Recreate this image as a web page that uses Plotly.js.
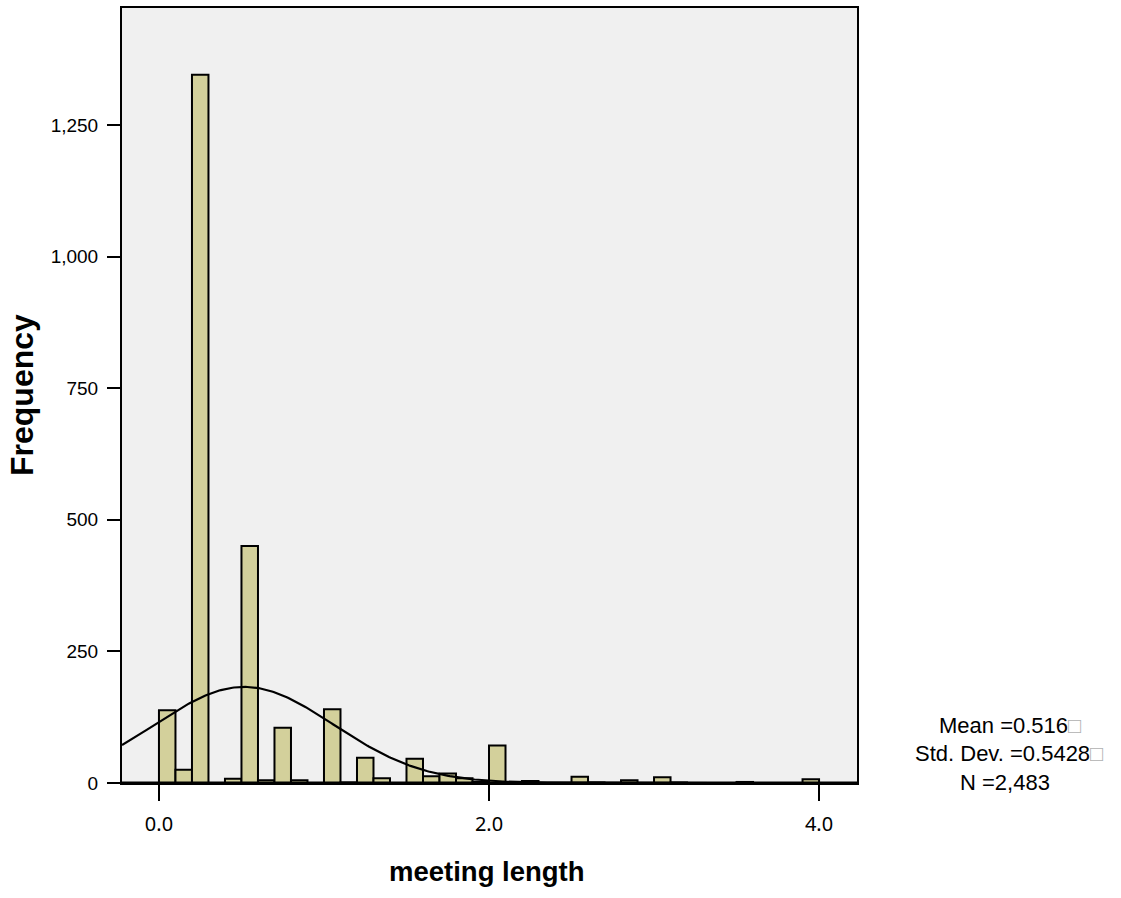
<!DOCTYPE html>
<html>
<head>
<meta charset="utf-8">
<script src="https://cdn.plot.ly/plotly-3.0.1.min.js"></script>
<style>html,body{margin:0;padding:0;background:#fff;}</style>
</head>
<body>
<div id="chart" style="width:1121px;height:898px;"></div>
<script>
// Histogram bins (bin centers, width 0.1) and frequencies
const binCenters = [0.05,0.15,0.25,0.35,0.45,0.55,0.65,0.75,0.85,0.95,1.05,1.15,1.25,1.35,1.45,1.55,1.65,1.75,1.85,1.95,2.05,2.15,2.25,2.35,2.45,2.55,2.65,2.75,2.85,2.95,3.05,3.15,3.25,3.35,3.45,3.55,3.65,3.75,3.85,3.95];
const counts     = [138,25,1345,0,8,450,5,105,5,0,140,1,48,9,0,46,13,18,9,2,71,0,4,0,0,12,1,0,5,0,11,1,0,0,0,2,0,0,0,7];
const binWidth = 0.1;

// Summary statistics shown on the chart
const meanVal = 0.516;
const sdVal = 0.5428;
const nVal = 2483;
const statLines = ["Mean =0.516", "Std. Dev. =0.5428", "N =2,483"];
const statHasBox = [true, true, false];

const xTickVals = [0, 2, 4];
const xTickText = ["0.0", "2.0", "4.0"];
const yTickVals = [0, 250, 500, 750, 1000, 1250];

const xRange = [-0.224, 4.23];
const yRange = [0, 1472];

// fitted normal curve from the stated mean / std. dev. / N
const curveX = [], curveY = [];
for (let i = 0; i <= 446; i++) {
  const x = xRange[0] + i * (xRange[1] - xRange[0]) / 446;
  const z = (x - meanVal) / sdVal;
  curveX.push(x);
  curveY.push(nVal * binWidth / (sdVal * Math.sqrt(2 * Math.PI)) * Math.exp(-0.5 * z * z));
}

const sans = "Liberation Sans, Arial, Helvetica, sans-serif";
const xtickFont = "Noto Sans, Open Sans, sans-serif";

const traces = [
  {
    type: "bar",
    x: binCenters,
    y: counts,
    width: binWidth,
    marker: { color: "#d3d09b", line: { color: "#000", width: 2 } },
    hoverinfo: "x+y"
  },
  {
    type: "scatter",
    mode: "lines",
    x: curveX,
    y: curveY,
    line: { color: "#000", width: 2.2 },
    hoverinfo: "skip"
  }
];

const box = '<span style="color:#b0b0b0">□</span>';
const statLeftPx = [937, 913, 958];
const statMidPx = [725, 753, 782];
const statAnn = statLines.map((t, i) => ({
  xref: "paper", yref: "paper",
  x: (statLeftPx[i] - 122) / 735,
  y: (783 - statMidPx[i]) / 775,
  xanchor: "left", yanchor: "middle",
  showarrow: false,
  text: t + (statHasBox[i] ? box : ""),
  font: { size: 22, family: sans, color: "#000" }
}));

const layout = {
  width: 1121,
  height: 898,
  margin: { l: 122, r: 264, t: 8, b: 115 },
  paper_bgcolor: "#ffffff",
  plot_bgcolor: "#f0f0f0",
  showlegend: false,
  bargap: 0,
  font: { family: sans, color: "#000" },
  xaxis: {
    range: xRange,
    tickvals: xTickVals,
    ticktext: xTickText,
    ticks: "outside",
    ticklen: 16,
    tickwidth: 2,
    tickcolor: "#000",
    showgrid: false,
    zeroline: false,
    showline: true,
    linecolor: "#000",
    linewidth: 2,
    mirror: true,
    tickfont: { size: 20, family: xtickFont },
    ticklabelstandoff: 6
  },
  yaxis: {
    range: yRange,
    tickvals: yTickVals,
    tickformat: ",",
    ticks: "outside",
    ticklen: 13,
    tickwidth: 2,
    tickcolor: "#000",
    showgrid: false,
    zeroline: false,
    showline: true,
    linecolor: "#000",
    linewidth: 2,
    mirror: true,
    tickfont: { size: 19, family: sans },
    ticklabelstandoff: 5
  },
  shapes: [
    { type: "line", xref: "paper", yref: "y", x0: 0, x1: 1, y0: 0, y1: 0, line: { color: "#000", width: 3 } }
  ],
  annotations: [
    {
      xref: "paper", yref: "paper",
      x: (487 - 122) / 735, y: (783 - 872) / 775,
      xanchor: "center", yanchor: "middle",
      showarrow: false,
      text: "<b>meeting length</b>",
      font: { size: 27.5, family: sans, color: "#000" }
    },
    {
      xref: "paper", yref: "paper",
      x: (22 - 122) / 735, y: (783 - 395) / 775,
      xanchor: "center", yanchor: "middle",
      textangle: -90,
      showarrow: false,
      text: "<b>Frequency</b>",
      font: { size: 32, family: sans, color: "#000" }
    }
  ].concat(statAnn)
};

Plotly.newPlot("chart", traces, layout, { displayModeBar: false, staticPlot: true });
</script>
</body>
</html>
